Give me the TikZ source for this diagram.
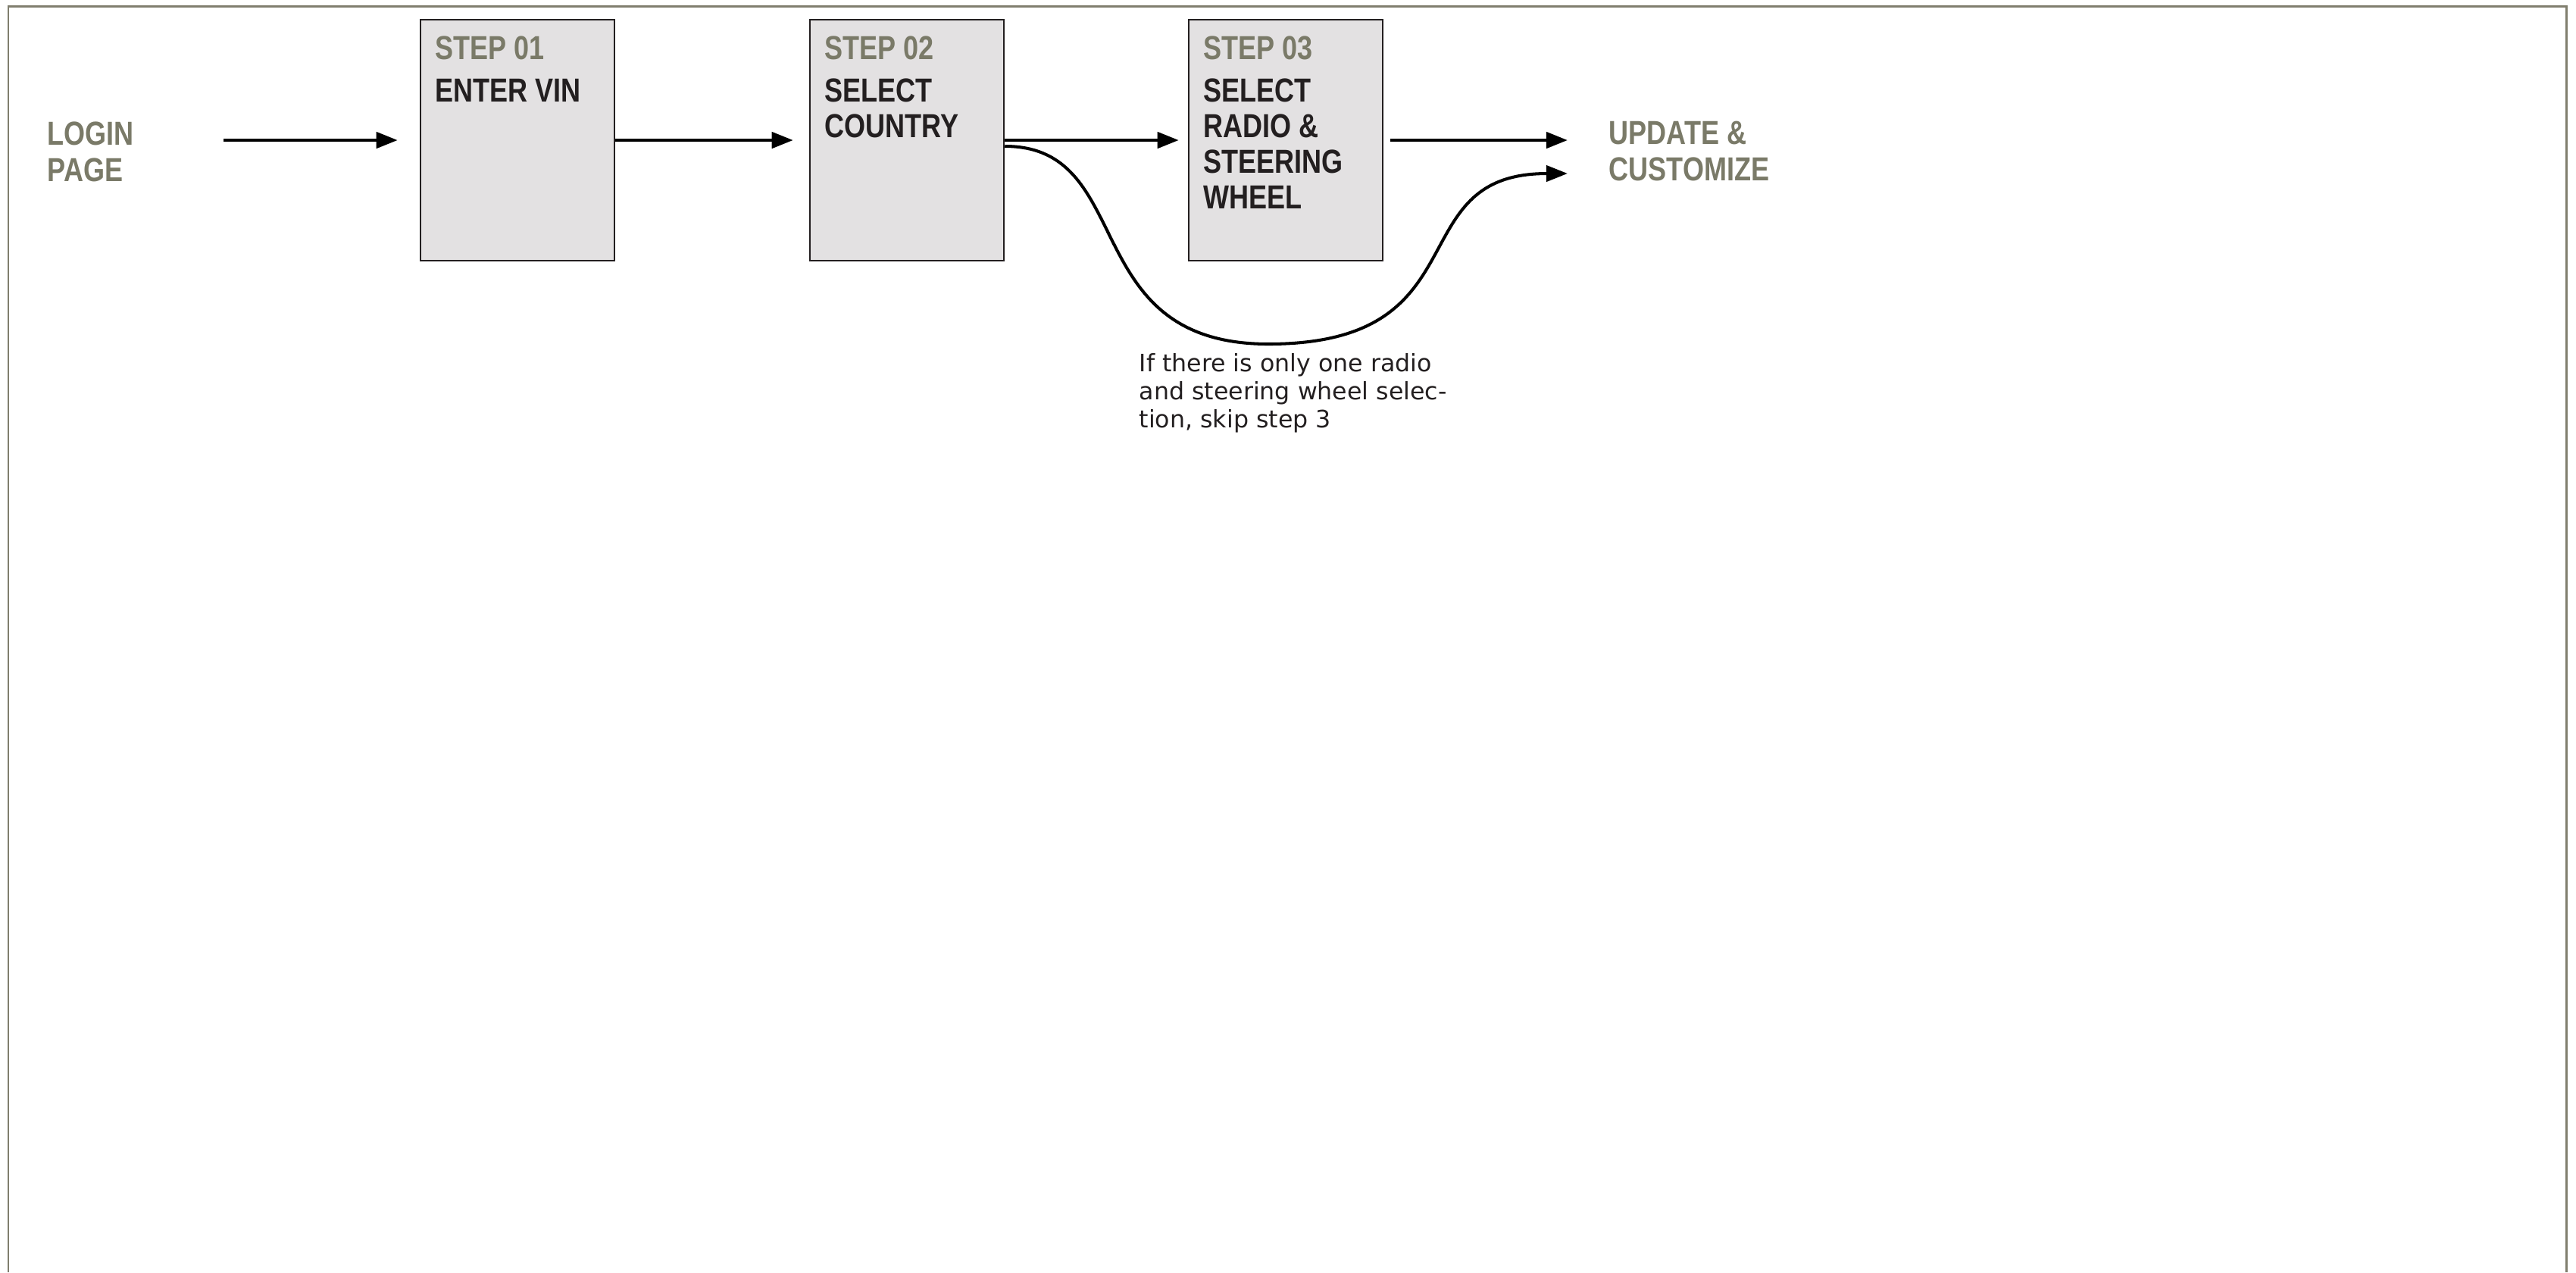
\documentclass[tikz,border=0pt]{standalone}
\usepackage{fontspec}
\setmainfont{Liberation Sans}
\newfontfamily\condfont[FakeStretch=0.82]{Liberation Sans Bold}
\newfontfamily\notefont{DejaVu Sans}
\usetikzlibrary{calc, arrows.meta, positioning}

\definecolor{framegray}{RGB}{128,126,110}
\definecolor{labelgray}{RGB}{122,122,104}
\definecolor{boxfill}{RGB}{227,225,226}
\definecolor{inkblack}{RGB}{35,31,32}

\tikzset{
    stepbox/.style={draw=inkblack, line width=0.7pt, fill=boxfill, minimum width=2.56cm, minimum height=3.18cm, inner sep=0pt},
    steplabel/.style={anchor=base west, inner sep=0pt, text=labelgray, font=\condfont\fontsize{12.5}{13.4}\selectfont},
    steptitle/.style={anchor=base west, inner sep=0pt, align=left, text=inkblack, font=\condfont\fontsize{12.5}{13.4}\selectfont},
    pagelabel/.style={anchor=base west, inner sep=0pt, align=left, text=labelgray, font=\condfont\fontsize{12.5}{13.4}\selectfont},
    flow/.style={draw=black, line width=1.3pt, -{Triangle[length=8pt, width=6pt]}},
    skipflow/.style={draw=black, line width=1.15pt, -{Triangle[length=8pt, width=6pt]}}
}

\begin{document}
\begin{tikzpicture}
    \useasboundingbox (0,0) rectangle (34,-16.79);

    % Frame (open at the bottom)
    \draw[framegray, line width=0.85pt] (0.11,-16.79) |- (33.87,-0.08) -- (33.87,-16.79);

    % Start and end pages (base = last line)
    \node[pagelabel] (login) at (0.62,-2.39) {LOGIN\\PAGE};
    \node[pagelabel] (upd) at (21.23,-2.38) {UPDATE \&\\CUSTOMIZE};

    % Step boxes
    \node[stepbox] (b1) at (6.83,-1.85) {};
    \node[stepbox] (b2) at (11.97,-1.85) {};
    \node[stepbox] (b3) at (16.97,-1.85) {};

    \node[steplabel] (l1) at ($(b1.north west)+(0.2,-0.54)$) {STEP 01};
    \node[steptitle] (t1) at ($(b1.north west)+(0.2,-1.10)$) {ENTER VIN};

    \node[steplabel] (l2) at ($(b2.north west)+(0.2,-0.54)$) {STEP 02};
    \node[steptitle] (t2) at ($(b2.north west)+(0.2,-1.57)$) {SELECT\\COUNTRY};

    \node[steplabel] (l3) at ($(b3.north west)+(0.2,-0.54)$) {STEP 03};
    \node[steptitle] (t3) at ($(b3.north west)+(0.2,-2.51)$) {SELECT\\RADIO \&\\STEERING\\WHEEL};

    % Main flow
    \draw[flow, shorten <=1.18cm, shorten >=0.29cm] (login.east |- b1.west) -- (b1.west);
    \draw[flow, shorten >=0.21cm] (b1.east) -- (b2.west);
    \draw[flow, shorten >=0.12cm] (b2.east) -- (b3.west);
    \draw[flow, shorten <=0.09cm, shorten >=0.54cm] (b3.east) -- (upd.west |- b3.east);

    % Skip of step 3
    \draw[skipflow, shorten >=0.54cm] ([yshift=-0.08cm]b2.east)
        .. controls +(1.76,0) and +(-2.54,0) .. (16.74,-4.54)
        .. controls +(2.86,0) and +(-2.79,0) .. ($(upd.west |- b3.east)+(0,-0.44)$);

    \node[anchor=base west, inner sep=0pt, align=left, text=inkblack, font=\notefont\fontsize{9}{10.5}\selectfont] (note) at (15.03,-5.64)
        {If there is only one radio\\and steering wheel selec-\\tion, skip step 3};
\end{tikzpicture}
\end{document}
